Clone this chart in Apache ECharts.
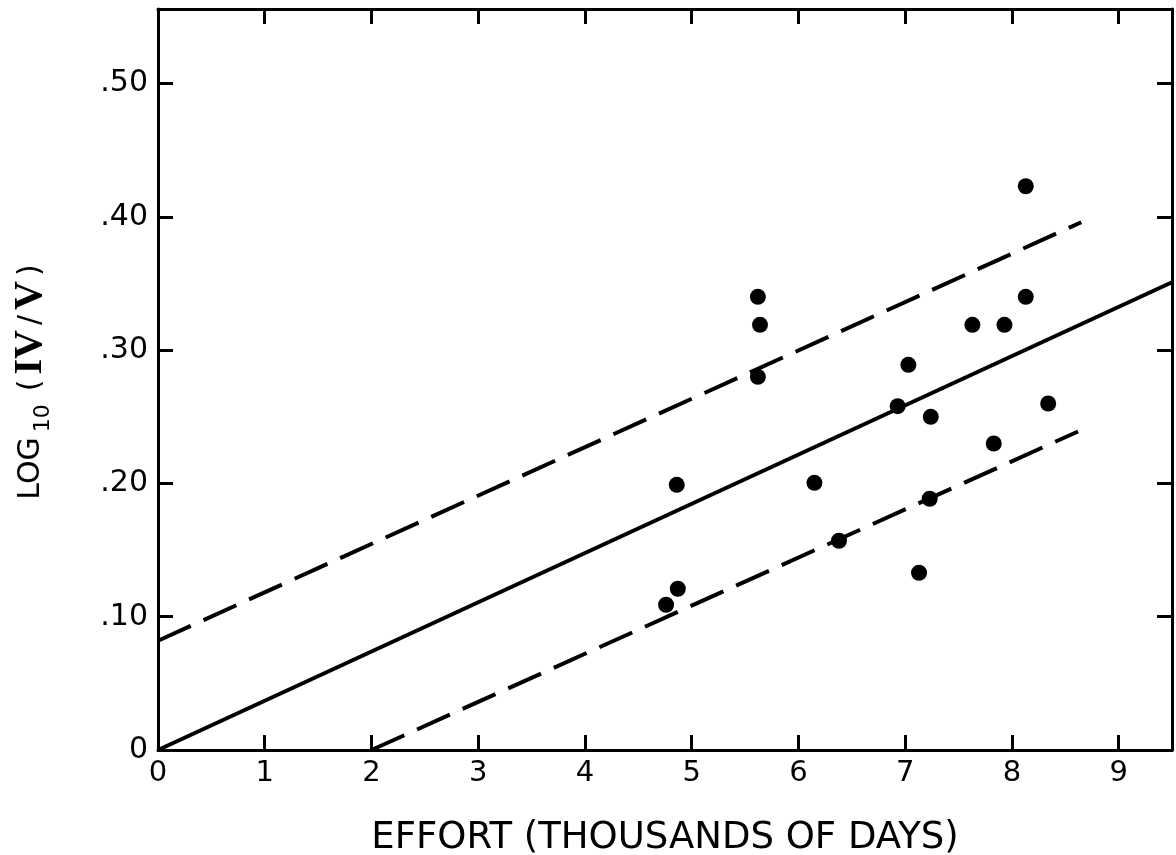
<!DOCTYPE html>
<html>
<head>
<meta charset="utf-8">
<script src="https://cdn.jsdelivr.net/npm/echarts@6/dist/echarts.min.js"></script>
<style>
html,body{margin:0;padding:0;background:#fff;}
#c{width:1176px;height:855px;}
</style>
</head>
<body>
<div id="c"></div>
<script>
// Observed points: effort (thousands of days) and log10(IV/V)
const effort = [4.76, 4.87, 4.86, 5.62, 5.64, 5.62, 6.15, 6.38, 6.93, 7.03, 7.13, 7.24, 7.23, 7.63, 7.83, 7.93, 8.13, 8.13, 8.34];
const logRatio = [0.109, 0.121, 0.199, 0.340, 0.319, 0.280, 0.2005, 0.157, 0.258, 0.289, 0.133, 0.250, 0.1885, 0.319, 0.230, 0.319, 0.340, 0.423, 0.260];

// Fitted line and confidence band (endpoints)
const fitX = [0, 9.5];
const fitY = [0, 0.351];
const upperX = [0, 8.65];
const upperY = [0.082, 0.396];
const lowerX = [2.0, 8.62];
const lowerY = [0, 0.239];

// Tick labels
const xTickValues = [0, 1, 2, 3, 4, 5, 6, 7, 8, 9];
const xTickLabels = ['0', '1', '2', '3', '4', '5', '6', '7', '8', '9'];
const yTickValues = [0, 0.1, 0.2, 0.3, 0.4, 0.5];
const yTickLabels = ['0', '.10', '.20', '.30', '.40', '.50'];

const xTitle = 'EFFORT (THOUSANDS OF DAYS)';

function pairs(xs, ys) { return xs.map((x, i) => [x, ys[i]]); }
function lookup(vals, labels, v) {
  for (let i = 0; i < vals.length; i++) if (Math.abs(vals[i] - v) < 1e-6) return labels[i];
  return '';
}

const FONT = 'DejaVu Sans';
const chart = echarts.init(document.getElementById('c'), null, {renderer: 'canvas'});

const axisLine = {show: true, onZero: false, lineStyle: {color: '#000', width: 3}};
const axisTick = {show: true, inside: true, length: 15, lineStyle: {color: '#000', width: 3}};

chart.setOption({
  backgroundColor: '#fff',
  animation: false,
  grid: {left: 158, right: 4, top: 9, bottom: 105, containLabel: false, outerBoundsMode: 'none'},
  xAxis: [{
    type: 'value', min: 0, max: 9.5, interval: 1, position: 'bottom',
    axisLine: axisLine, axisTick: axisTick, splitLine: {show: false},
    axisLabel: {
      margin: 9, color: '#000', fontFamily: FONT, fontSize: 29,
      formatter: v => lookup(xTickValues, xTickLabels, v)
    },
    name: xTitle, nameLocation: 'middle', nameGap: 70,
    nameTextStyle: {color: '#000', fontFamily: FONT, fontSize: 37}
  }, {
    type: 'value', min: 0, max: 9.5, interval: 1, position: 'top',
    axisLine: axisLine, axisTick: axisTick, splitLine: {show: false},
    axisLabel: {show: false}
  }],
  yAxis: [{
    type: 'value', min: 0, max: 0.556, interval: 0.1, position: 'left',
    axisLine: axisLine, axisTick: axisTick, splitLine: {show: false},
    axisLabel: {
      margin: 10, color: '#000', fontFamily: FONT, fontSize: 30,
      formatter: v => lookup(yTickValues, yTickLabels, v)
    },
    name: '{a|LOG}{s|10}{p|(}{r|IV}{p|/}{r|V}{p|)}',
    nameLocation: 'middle', nameRotate: 90, nameGap: 104,
    nameTextStyle: {
      color: '#000',
      rich: {
        a: {fontFamily: FONT, fontSize: 30, color: '#000', lineHeight: 46},
        s: {fontFamily: FONT, fontSize: 22, color: '#000', lineHeight: 46, verticalAlign: 'bottom', padding: [0, 8, 0, 5]},
        p: {fontFamily: FONT, fontSize: 30, color: '#000', lineHeight: 46, padding: [0, 5, 0, 5]},
        r: {fontFamily: 'Liberation Serif', fontWeight: 'bold', fontSize: 40, color: '#000', lineHeight: 46}
      }
    }
  }, {
    type: 'value', min: 0, max: 0.556, interval: 0.1, position: 'right',
    axisLine: axisLine, axisTick: axisTick, splitLine: {show: false},
    axisLabel: {show: false}
  }],
  series: [{
    type: 'line', data: pairs(fitX, fitY), symbol: 'none',
    lineStyle: {color: '#000', width: 4, type: 'solid'}, z: 2
  }, {
    type: 'line', data: pairs(upperX, upperY), symbol: 'none',
    lineStyle: {color: '#000', width: 4, type: [36, 14], cap: 'butt'}, z: 2
  }, {
    type: 'line', data: pairs(lowerX, lowerY), symbol: 'none',
    lineStyle: {color: '#000', width: 4, type: [36, 14], cap: 'butt'}, z: 2
  }, {
    type: 'scatter', data: pairs(effort, logRatio), symbol: 'circle', symbolSize: 16,
    itemStyle: {color: '#000', opacity: 1}, z: 3
  }]
});
</script>
</body>
</html>
